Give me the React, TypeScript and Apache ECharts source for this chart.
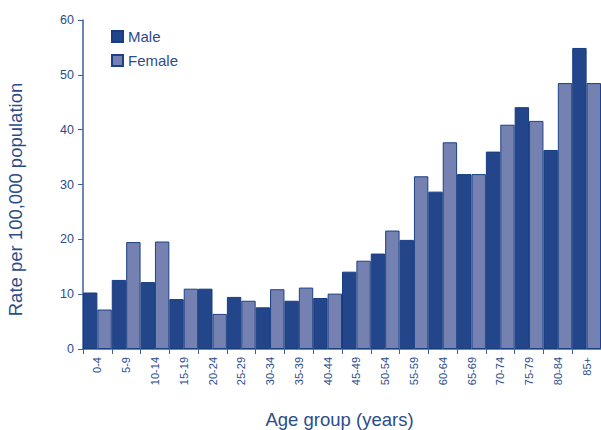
import React, { useEffect, useRef } from "react";
import * as echarts from "echarts";

const categories = ["0-4", "5-9", "10-14", "15-19", "20-24", "25-29", "30-34", "35-39", "40-44", "45-49", "50-54", "55-59", "60-64", "65-69", "70-74", "75-79", "80-84", "85+"];
const male = [10.3, 12.6, 12.2, 9.1, 11.0, 9.5, 7.6, 8.8, 9.3, 14.1, 17.4, 19.9, 28.7, 31.9, 36.0, 44.1, 36.3, 54.9];
const female = [7.2, 19.5, 19.6, 11.0, 6.4, 8.8, 10.9, 11.2, 10.1, 16.1, 21.6, 31.5, 37.7, 31.9, 40.9, 41.6, 48.5, 48.5];
const yTicks = { min: 0, max: 60, interval: 10 };

const TXT = "#2b4c8c";
const AXIS = "#3d5f9f";
const FONT = "Liberation Sans, Arial, sans-serif";

export default function App() {
  const ref = useRef<HTMLDivElement>(null);
  useEffect(() => {
    if (!ref.current) return;
    const chart = echarts.init(ref.current, null, { renderer: "svg" });
    chart.setOption({
      animation: false,
      textStyle: { fontFamily: FONT },
      legend: {
        left: 106,
        top: 24,
        orient: "vertical",
        icon: "rect",
        itemWidth: 11,
        itemHeight: 11,
        itemGap: 9,
        textStyle: { color: TXT, fontSize: 15, fontFamily: FONT },
        data: ["Male", "Female"],
      },
      grid: { left: 83, right: 0, top: 20, bottom: 81, containLabel: false, outerBoundsMode: "none" },
      xAxis: {
        type: "category",
        data: categories,
        name: "Age group (years)",
        nameLocation: "middle",
        nameGap: 61,
        nameMoveOverlap: false,
        nameTextStyle: { color: TXT, fontSize: 18.5, fontFamily: FONT, padding: [0, 5, 0, 0] },
        axisLine: { lineStyle: { color: AXIS, width: 1.5 } },
        axisTick: { show: true, length: 5, lineStyle: { color: AXIS } },
        axisLabel: { rotate: 90, color: TXT, fontSize: 11, margin: 8, fontFamily: FONT },
      },
      yAxis: {
        type: "value",
        min: yTicks.min,
        max: yTicks.max,
        interval: yTicks.interval,
        name: "Rate per 100,000 population",
        nameLocation: "middle",
        nameGap: 58,
        nameMoveOverlap: false,
        nameTextStyle: { color: TXT, fontSize: 18.5, fontFamily: FONT, padding: [0, 30, 0, 0] },
        axisLine: { show: true, lineStyle: { color: AXIS, width: 1.5 } },
        axisTick: { show: true, length: 5, lineStyle: { color: AXIS } },
        splitLine: { show: false },
        axisLabel: { color: TXT, fontSize: 12.5, margin: 9, fontFamily: FONT },
      },
      series: [
        {
          name: "Male",
          type: "bar",
          data: male,
          barGap: "0%",
          barCategoryGap: "0%",
          itemStyle: { color: "#23468a", borderColor: "#173c82", borderWidth: 1 },
        },
        {
          name: "Female",
          type: "bar",
          data: female,
          barGap: "0%",
          barCategoryGap: "0%",
          itemStyle: { color: "#7481b1", borderColor: "#1d4186", borderWidth: 1 },
        },
      ],
    });
    return () => chart.dispose();
  }, []);
  return <div ref={ref} style={{ width: 601, height: 430, position: "absolute", left: 0, top: 0 }} />;
}
